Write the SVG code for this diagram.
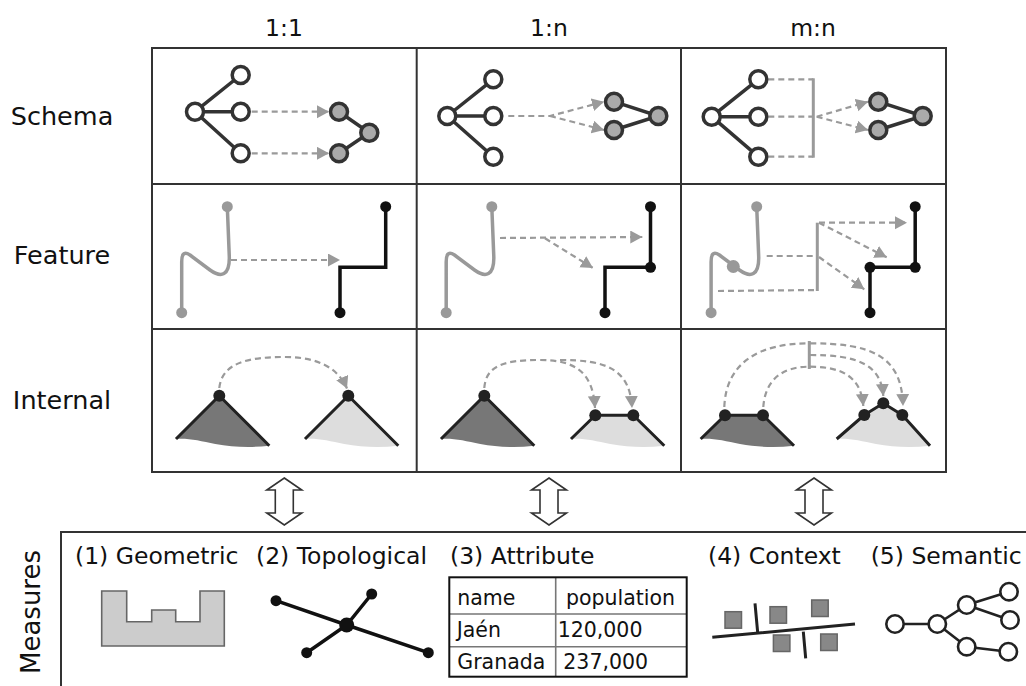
<svg xmlns="http://www.w3.org/2000/svg" width="1026" height="686" viewBox="0 0 1026 686">
  <style>
    .lbl { font-family: "DejaVu Sans", Verdana, sans-serif; font-size: 23.5px; fill: #111; }
    .row { font-size: 25.5px; }
    .tbl { font-family: "DejaVu Sans", Verdana, sans-serif; font-size: 20.5px; fill: #111; }
    .grid { fill: none; stroke: #333; stroke-width: 2; }
    .edge { stroke: #333; stroke-width: 3.5; fill: none; }
    .wn { fill: #fff; stroke: #333; stroke-width: 3.5; }
    .gn { fill: #aaa; stroke: #333; stroke-width: 3.5; }
    .dash { stroke: #9a9a9a; stroke-width: 2.2; stroke-dasharray: 6 4; fill: none; }
    .arr { marker-end: url(#tri); }
    .bar { stroke: #9a9a9a; stroke-width: 3; fill: none; }
    .gline { stroke: #999; stroke-width: 3.5; fill: none; stroke-linejoin: round; }
    .bline { stroke: #111; stroke-width: 3.5; fill: none; }
    .gdot { fill: #999; }
    .bdot { fill: #111; }
    .side { stroke: #222; stroke-width: 3; fill: none; stroke-linejoin: round; }
    .dark { fill: #777; }
    .light { fill: #ddd; }
    .kdot { fill: #222; }
    .dbl { fill: #fff; stroke: #333; stroke-width: 1.6; stroke-linejoin: miter; }
  </style>
  <defs>
    <marker id="tri" markerUnits="userSpaceOnUse" markerWidth="13" markerHeight="14" refX="12" refY="6.5" orient="auto">
      <path d="M0,0 L12,6.5 L0,13 Z" fill="#9a9a9a"/>
    </marker>
    <polygon id="dblarrow" points="0,478 17.5,490 9,490 9,513 17.5,513 0,525 -17.5,513 -9,513 -9,490 -17.5,490"/>
    <!-- tree shape with apex at the origin -->
    <path id="treeFill" d="M-43.3,43.3 L0,0 L50,50 C31,52.3 13,51.3 -4,48.3 C-19,45.3 -31,42.3 -43.3,43.3 Z"/>
    <path id="treeSides" d="M-43.3,43.3 L0,0 L50,50"/>
    <path id="trapFill" d="M-43.3,43.3 L-19,19.5 L19,19.5 L50,50 C31,52.3 13,51.3 -4,48.3 C-19,45.3 -31,42.3 -43.3,43.3 Z"/>
    <path id="trapSides" d="M-43.3,43.3 L-19,19.5 L19,19.5 L50,50"/>
  </defs>

  <!-- column and row headings -->
  <g id="headings">
    <text class="lbl" x="284" y="36" text-anchor="middle">1:1</text>
    <text class="lbl" x="549" y="36" text-anchor="middle">1:n</text>
    <text class="lbl" x="813" y="36" text-anchor="middle">m:n</text>
    <text class="lbl row" x="62" y="125" text-anchor="middle">Schema</text>
    <text class="lbl row" x="62" y="264" text-anchor="middle">Feature</text>
    <text class="lbl row" x="62" y="409" text-anchor="middle">Internal</text>
  </g>

  <!-- matrix frame -->
  <g id="matrix">
    <rect class="grid" x="152" y="48" width="794" height="424"/>
    <line class="grid" x1="416.7" y1="48" x2="416.7" y2="472"/>
    <line class="grid" x1="681" y1="48" x2="681" y2="472"/>
    <line class="grid" x1="152" y1="184" x2="946" y2="184"/>
    <line class="grid" x1="152" y1="329" x2="946" y2="329"/>
  </g>

  <!-- connectors -->
  <g id="connectors">
    <!-- schema -->
    <path class="dash arr" d="M251.7,111.7 L329,111.7"/>
    <path class="dash arr" d="M251.7,153.3 L329,153.3"/>
    <path class="dash arr" d="M508.3,116 L550,116 L604,101.7"/>
    <path class="dash arr" d="M550,116 L604,130"/>
    <path class="dash" d="M768.3,79.3 L813.3,79.3 M768.3,116.7 L813.3,116.7 M768.3,156.7 L813.3,156.7"/>
    <line class="bar" x1="813.3" y1="78.3" x2="813.3" y2="157.7"/>
    <path class="dash arr" d="M816.7,116.7 L868,101.7"/>
    <path class="dash arr" d="M816.7,116.7 L868,130"/>
    <!-- feature -->
    <path class="dash arr" d="M231,260 L340,260"/>
    <path class="dash arr" d="M500,238 L642.3,237"/>
    <path class="dash arr" d="M545,238.3 L593,268"/>
    <path class="dash" d="M766.7,256 L817.3,256 M718,291 L817.3,290"/>
    <line class="bar" x1="817.3" y1="222.7" x2="817.3" y2="291"/>
    <path class="dash arr" d="M819,222.7 L907,222.7"/>
    <path class="dash arr" d="M819,222.7 L886.7,257.3"/>
    <path class="dash arr" d="M819,257 L864.3,289.3"/>
    <!-- internal -->
    <path class="dash arr" d="M219.3,388 C222,362 250,357 285,357 C318,357 338,368 347,388.5"/>
    <path class="dash arr" d="M484.3,388 C486,365 505,360 540,360 C575,360 593,372 595,408"/>
    <path class="dash arr" d="M560,360 C605,360 630,368 632,408"/>
    <path class="dash" d="M724.3,407 C726,362 760,343.3 809,343.3"/>
    <path class="dash" d="M763.3,407 C765,382 780,366.7 809,366.7"/>
    <line class="bar" x1="809.3" y1="341" x2="809.3" y2="369"/>
    <path class="dash arr" d="M810,343.3 C872,343.3 902,356 903,406"/>
    <path class="dash arr" d="M810,355 C857,355 881,364 883.3,396"/>
    <path class="dash arr" d="M810,366.7 C841,366.7 861,376 863.3,406"/>
  </g>

  <!-- schema row -->
  <g id="schema-1-1">
    <path class="edge" d="M195,111.7 L240.7,75 M195,111.7 L240.7,111.7 M195,111.7 L240.7,153.3 M339,111.7 L369.3,132.7 L339,153.3"/>
    <circle class="wn" cx="195" cy="111.7" r="8.5"/>
    <circle class="wn" cx="240.7" cy="75" r="8.5"/>
    <circle class="wn" cx="240.7" cy="111.7" r="8.5"/>
    <circle class="wn" cx="240.7" cy="153.3" r="8.5"/>
    <circle class="gn" cx="339" cy="111.7" r="8.5"/>
    <circle class="gn" cx="339" cy="153.3" r="8.5"/>
    <circle class="gn" cx="369.3" cy="132.7" r="8.5"/>
  </g>
  <g id="schema-1-n">
    <path class="edge" d="M447.3,116 L493.3,79.3 M447.3,116 L493.3,116 M447.3,116 L493.3,156.7 M614,101.7 L658.3,116 L614,130"/>
    <circle class="wn" cx="447.3" cy="116" r="8.5"/>
    <circle class="wn" cx="493.3" cy="79.3" r="8.5"/>
    <circle class="wn" cx="493.3" cy="116" r="8.5"/>
    <circle class="wn" cx="493.3" cy="156.7" r="8.5"/>
    <circle class="gn" cx="614" cy="101.7" r="8.5"/>
    <circle class="gn" cx="614" cy="130" r="8.5"/>
    <circle class="gn" cx="658.3" cy="116" r="8.5"/>
  </g>
  <g id="schema-m-n">
    <path class="edge" d="M711.7,116.7 L758.3,79.3 M711.7,116.7 L758.3,116.7 M711.7,116.7 L758.3,156.7 M878.3,101.7 L922.7,116 L878.3,130"/>
    <circle class="wn" cx="711.7" cy="116.7" r="8.5"/>
    <circle class="wn" cx="758.3" cy="79.3" r="8.5"/>
    <circle class="wn" cx="758.3" cy="116.7" r="8.5"/>
    <circle class="wn" cx="758.3" cy="156.7" r="8.5"/>
    <circle class="gn" cx="878.3" cy="101.7" r="8.5"/>
    <circle class="gn" cx="878.3" cy="130" r="8.5"/>
    <circle class="gn" cx="922.7" cy="116" r="8.5"/>
  </g>

  <!-- feature row -->
  <g id="feature-1-1">
    <path class="gline" d="M227.3,206.7 L229.3,256.7 C229.8,276 221,278 210,270 L190,255 C183.3,250.7 181.7,255 181.7,262 L181.7,312.7"/>
    <circle class="gdot" cx="227.3" cy="206.7" r="5.5"/>
    <circle class="gdot" cx="181.7" cy="312.7" r="5.5"/>
    <path class="bline" d="M385.7,206.7 L385.7,267.3 L340,267.3 L340,312.7"/>
    <circle class="bdot" cx="385.7" cy="206.7" r="5.5"/>
    <circle class="bdot" cx="340" cy="312.7" r="5.5"/>
  </g>
  <g id="feature-1-n">
    <path class="gline" d="M491.8,206.7 L493.8,256.7 C494.3,276 485.5,278 474.5,270 L454.5,255 C447.8,250.7 446.2,255 446.2,262 L446.2,312.7"/>
    <circle class="gdot" cx="491.8" cy="206.7" r="5.5"/>
    <circle class="gdot" cx="446.2" cy="312.7" r="5.5"/>
    <path class="bline" d="M650.5,206.7 L650.5,267.3 L605,267.3 L605,312.7"/>
    <circle class="bdot" cx="650.5" cy="206.7" r="5.5"/>
    <circle class="bdot" cx="650.5" cy="267.3" r="5.5"/>
    <circle class="bdot" cx="605" cy="312.7" r="5.5"/>
  </g>
  <g id="feature-m-n">
    <path class="gline" d="M756.7,206.7 L758.7,256.7 C759.2,276 750.4,278 739.4,270 L719.4,255 C712.7,250.7 711.1,255 711.1,262 L711.1,312.7"/>
    <circle class="gdot" cx="756.7" cy="206.7" r="5.5"/>
    <circle class="gdot" cx="733.3" cy="266.5" r="6.5"/>
    <circle class="gdot" cx="711.1" cy="312.7" r="5.5"/>
    <path class="bline" d="M915.2,206.7 L915.2,267.3 L870,267.3 L870,312.7"/>
    <circle class="bdot" cx="915.2" cy="206.7" r="5.5"/>
    <circle class="bdot" cx="915.2" cy="267.3" r="5.5"/>
    <circle class="bdot" cx="870" cy="267.3" r="5.5"/>
    <circle class="bdot" cx="870" cy="312.7" r="5.5"/>
  </g>

  <!-- internal row -->
  <g id="internal-1-1">
    <use href="#treeFill" class="dark" transform="translate(219.3,395.7)"/>
    <use href="#treeSides" class="side" transform="translate(219.3,395.7)"/>
    <circle class="kdot" cx="219.3" cy="395.7" r="6"/>
    <use href="#treeFill" class="light" transform="translate(348.3,395.7)"/>
    <use href="#treeSides" class="side" transform="translate(348.3,395.7)"/>
    <circle class="kdot" cx="348.3" cy="395.7" r="6"/>
  </g>
  <g id="internal-1-n">
    <use href="#treeFill" class="dark" transform="translate(484.3,395.7)"/>
    <use href="#treeSides" class="side" transform="translate(484.3,395.7)"/>
    <circle class="kdot" cx="484.3" cy="395.7" r="6"/>
    <use href="#trapFill" class="light" transform="translate(614.3,395.7)"/>
    <use href="#trapSides" class="side" transform="translate(614.3,395.7)"/>
    <circle class="kdot" cx="595.3" cy="415.2" r="6"/>
    <circle class="kdot" cx="633.3" cy="415.2" r="6"/>
  </g>
  <g id="internal-m-n">
    <use href="#trapFill" class="dark" transform="translate(744,395.7)"/>
    <use href="#trapSides" class="side" transform="translate(744,395.7)"/>
    <circle class="kdot" cx="725" cy="415.2" r="6"/>
    <circle class="kdot" cx="763" cy="415.2" r="6"/>
    <path class="light" d="M836.7,439 L864.3,415 L883.3,403.3 L902.3,415 L930,445.7 C911,448 893,447 876,444 C861,441 849,438 836.7,439 Z"/>
    <path class="side" d="M836.7,439 L864.3,415 L883.3,403.3 L902.3,415 L930,445.7"/>
    <circle class="kdot" cx="864.3" cy="415" r="6"/>
    <circle class="kdot" cx="883.3" cy="403.3" r="6"/>
    <circle class="kdot" cx="902.3" cy="415" r="6"/>
  </g>

  <!-- two-way arrows between matrix and measures -->
  <g id="links">
    <use href="#dblarrow" class="dbl" x="284.3"/>
    <use href="#dblarrow" class="dbl" x="549"/>
    <use href="#dblarrow" class="dbl" x="814"/>
  </g>

  <!-- measures panel -->
  <g id="measures">
    <path class="grid" d="M61,700 L61,532 L1030,532"/>
    <text class="lbl" transform="translate(40,612) rotate(-90)" text-anchor="middle" style="font-size:26px">Measures</text>
  </g>

  <g id="geometric">
    <text class="lbl" x="75" y="564">(1) Geometric</text>
    <path d="M101.7,591 L126.7,591 L126.7,621.7 L151.7,621.7 L151.7,610 L175.7,610 L175.7,621.7 L200,621.7 L200,591 L224.3,591 L224.3,646 L101.7,646 Z" fill="#ccc" stroke="#666" stroke-width="1.6"/>
  </g>

  <g id="topological">
    <text class="lbl" x="256" y="564">(2) Topological</text>
    <path d="M276,600.7 L346.7,625 L428.3,652.7 M306.7,652.7 L346.7,625 L371.7,594" stroke="#111" stroke-width="3.5" fill="none"/>
    <circle class="bdot" cx="276" cy="600.7" r="5.5"/>
    <circle class="bdot" cx="306.7" cy="652.7" r="5.5"/>
    <circle class="bdot" cx="371.7" cy="594" r="5.5"/>
    <circle class="bdot" cx="428.3" cy="652.7" r="5.5"/>
    <circle class="bdot" cx="346.7" cy="625" r="7.5"/>
  </g>

  <g id="attribute">
    <text class="lbl" x="450" y="564">(3) Attribute</text>
    <path d="M449.3,614 L686.7,614 M449.3,646.7 L686.7,646.7 M555.7,577.3 L555.7,676.7" stroke="#777" stroke-width="1.6" fill="none"/>
    <rect x="449.3" y="577.3" width="237.4" height="99.4" fill="none" stroke="#111" stroke-width="2"/>
    <text class="tbl" x="457.3" y="605">name</text>
    <text class="tbl" x="566" y="605">population</text>
    <text class="tbl" x="456.7" y="637">Jaén</text>
    <text class="tbl" x="557.7" y="637">120,000</text>
    <text class="tbl" x="457.3" y="669.3">Granada</text>
    <text class="tbl" x="563.3" y="669.3">237,000</text>
  </g>

  <g id="context">
    <text class="lbl" x="708" y="564">(4) Context</text>
    <path d="M712.3,637.3 L855,624 M755,603.3 L757.7,632.7 M803.3,631.7 L805.7,658.3" stroke="#222" stroke-width="3" fill="none"/>
    <g fill="#888" stroke="#666" stroke-width="1.5">
      <rect x="725" y="611.7" width="16.5" height="16.5"/>
      <rect x="770" y="606.7" width="16.5" height="16.5"/>
      <rect x="811.7" y="600" width="16.5" height="16.5"/>
      <rect x="773.4" y="635" width="16.5" height="16.5"/>
      <rect x="820.7" y="634" width="16.5" height="16.5"/>
    </g>
  </g>

  <g id="semantic">
    <text class="lbl" x="870.7" y="564">(5) Semantic</text>
    <path d="M895,624 L937.3,624 L966.7,605 L1009,591.7 M966.7,605 L1010,620 M937.3,624 L966.7,646.7 L1008.3,651.7" stroke="#222" stroke-width="2.6" fill="none"/>
    <g fill="#fff" stroke="#222" stroke-width="2.6">
      <circle cx="895" cy="624" r="8.7"/>
      <circle cx="937.3" cy="624" r="8.7"/>
      <circle cx="966.7" cy="605" r="8.7"/>
      <circle cx="966.7" cy="646.7" r="8.7"/>
      <circle cx="1009" cy="591.7" r="8.7"/>
      <circle cx="1010" cy="620" r="8.7"/>
      <circle cx="1008.3" cy="651.7" r="8.7"/>
    </g>
  </g>
</svg>
